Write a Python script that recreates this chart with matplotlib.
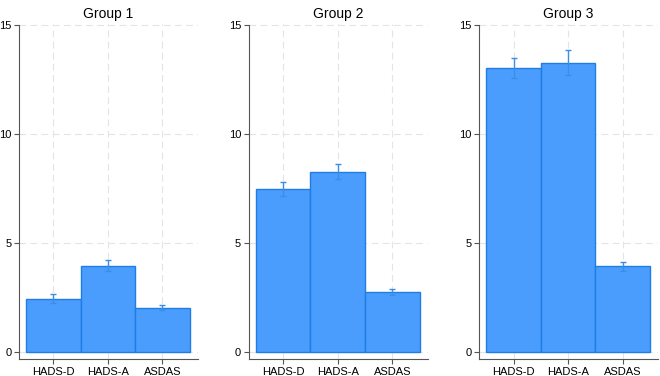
import matplotlib
matplotlib.use("Agg")
import matplotlib.pyplot as plt

plt.rcParams['font.family'] = ['Liberation Sans', 'DejaVu Sans']

groups = ["Group 1", "Group 2", "Group 3"]
measures = ["HADS-D", "HADS-A", "ASDAS"]

# bar heights per group
means = [
    [2.45, 3.96, 2.04],
    [7.48, 8.26, 2.76],
    [13.02, 13.27, 3.94],
]
# error bar lower / upper ends
err_low = [
    [2.25, 3.70, 1.94],
    [7.16, 7.93, 2.63],
    [12.59, 12.69, 3.74],
]
err_high = [
    [2.67, 4.23, 2.15],
    [7.82, 8.61, 2.89],
    [13.47, 13.84, 4.14],
]

bar_color = "#4a9dfc"
edge_color = "#1f7de8"
err_color = "#3a8ee8"

fig = plt.figure(figsize=(6.6, 3.76), dpi=100)
lefts = [0.0288, 0.377, 0.726]

for i, g in enumerate(groups):
    ax = fig.add_axes([lefts[i], 0.0452, 0.271, 0.891])
    x = list(range(len(measures)))
    ax.bar(x, means[i], width=1.0, color=bar_color, edgecolor=edge_color,
           linewidth=1.0, zorder=2)
    lo = [m - l for m, l in zip(means[i], err_low[i])]
    hi = [h - m for m, h in zip(means[i], err_high[i])]
    ax.errorbar(x, means[i], yerr=[lo, hi], fmt="none", ecolor=err_color,
                elinewidth=1.0, capsize=2.2, capthick=1.0, zorder=3)

    ax.set_xlim(-0.63, 2.65)
    ax.set_ylim(-0.32, 15.05)
    ax.set_xticks(x)
    ax.set_xticklabels(measures)
    ax.set_yticks([0, 5, 10, 15])
    ax.set_title(g, fontsize=10, pad=4)

    ax.grid(True, color="#e4e4e4", linestyle=(0, (6, 4)), linewidth=0.8, zorder=0)
    ax.set_axisbelow(True)
    for s in ["top", "right"]:
        ax.spines[s].set_visible(False)
    for s in ["left", "bottom"]:
        ax.spines[s].set_color("#555555")
        ax.spines[s].set_linewidth(0.8)
    ax.spines["left"].set_bounds(-0.32, 15.0)
    ax.tick_params(axis="both", labelsize=8, length=3.5, width=0.8,
                   color="#555555", pad=2)

fig.savefig("out.png", dpi=100)
